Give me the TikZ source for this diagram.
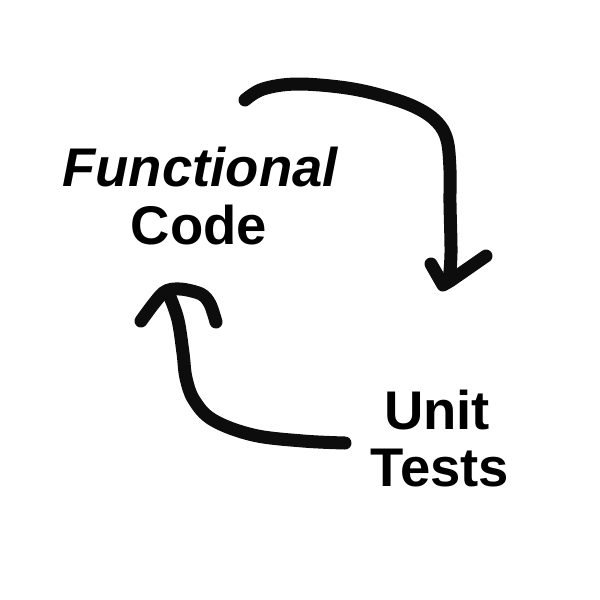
\documentclass[tikz,border=0pt]{standalone}
\usepackage{fontspec}
\setmainfont{Liberation Sans}
\begin{document}
\begin{tikzpicture}[x=0.02cm,y=-0.02cm,
  lbl/.style={font=\fontsize{31}{35}\selectfont\bfseries, anchor=base, inner sep=0pt},
  stroke/.style={line width=7.4pt, line cap=round, line join=round, black!95}]
\useasboundingbox[fill=white] (0,0) rectangle (600,600);
\node[lbl, font=\fontsize{31}{35}\selectfont\bfseries\itshape] (func) at (200,186) {Functional};
\node[lbl] (code) at (199,244) {Code};
\node[lbl] (unit) at (437,429) {Unit};
\node[lbl] (tests) at (440,486) {Tests};
% top arrow
\draw[stroke] plot[smooth, tension=0.6] coordinates {(245,100) (263,89) (297,84) (347,88) (387,97) (417,108) (437,122) (447,140) (450,170) (450,203) (451,253) (449,281)};
\draw[stroke] (431,264) -- (443,285) -- (450,281) -- (486,256);
% bottom arrow
\draw[stroke] plot[smooth, tension=0.6] coordinates {(345,443) (303,441) (253,435) (213,420) (194,400) (186,378) (183,353) (178,320) (170,297)};
\draw[stroke] plot[smooth, tension=0.5] coordinates {(141,321) (163,293) (180,289) (201,294) (210,304) (216,322)};
\end{tikzpicture}
\end{document}
